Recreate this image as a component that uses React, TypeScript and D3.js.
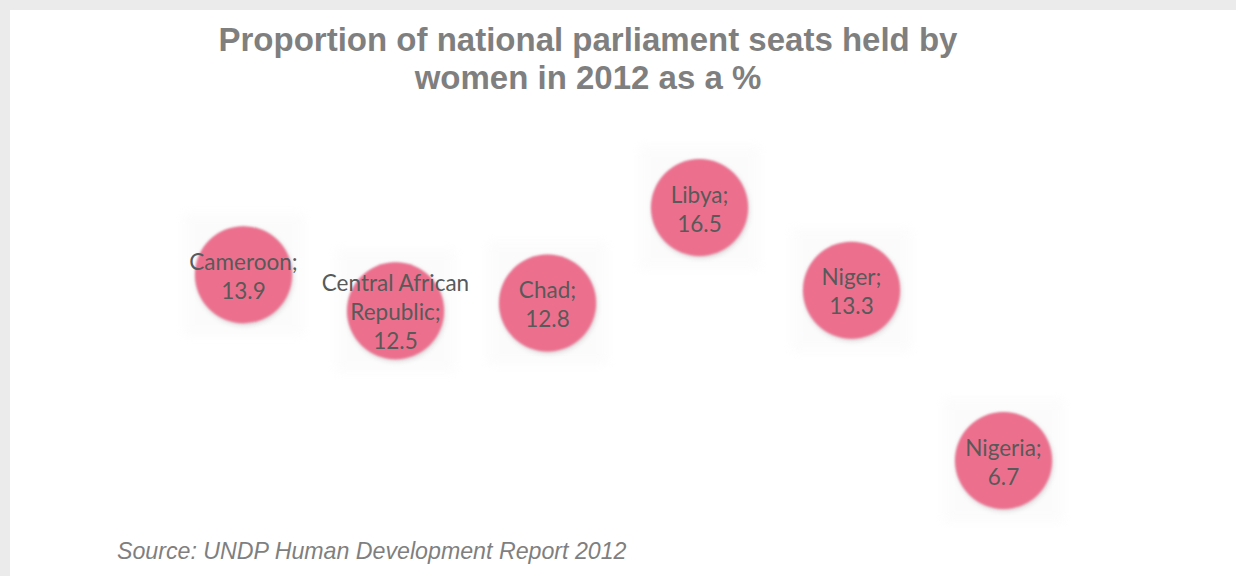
import React from "react";
import * as d3 from "d3";

const countries = ["Cameroon", "Central African Republic", "Chad", "Libya", "Niger", "Nigeria"];
const seatShares = [13.9, 12.5, 12.8, 16.5, 13.3, 6.7];
const titleLines = ["Proportion of national parliament seats held by", "women in 2012 as a %"];
const sourceText = "Source: UNDP Human Development Report 2012";

const W = 1236;
const H = 576;

function labelLines(name: string, v: number): string[] {
  if (name.length > 12) {
    const i = name.lastIndexOf(" ");
    return [name.slice(0, i), name.slice(i + 1) + ";", String(v)];
  }
  return [name + ";", String(v)];
}

export default function App() {
  const x = d3.scalePoint<string>().domain(countries).range([243.5, 1003.5]);
  const y = d3.scaleLinear().domain([0, 18]).range([633.5, 168.8]);
  const r = 48.5;
  const lineH = 29;

  return (
    <svg
      width={W}
      height={H}
      style={{ position: "absolute", left: 0, top: 0, display: "block" }}
    >
      <defs>
        <filter id="soft" x="-30%" y="-30%" width="160%" height="160%">
          <feGaussianBlur stdDeviation="1.2" />
        </filter>
        <filter id="shadow" x="-30%" y="-30%" width="160%" height="160%">
          <feGaussianBlur stdDeviation="2.5" />
        </filter>
        <filter id="square" x="-30%" y="-30%" width="160%" height="160%">
          <feGaussianBlur stdDeviation="5" />
        </filter>
      </defs>
      <rect x={0} y={0} width={W} height={H} fill="#ebebeb" />
      <rect x={10} y={10} width={W - 10} height={H - 10} fill="#ffffff" />

      <g fontFamily="'Liberation Sans', Arial, sans-serif" fontWeight="bold" fontSize={33} fill="#7f7f7f" textAnchor="middle">
        {titleLines.map((t, i) => (
          <text key={i} x={588} y={51 + i * 38}>{t}</text>
        ))}
      </g>

      {countries.map((c, i) => {
        const cx = x(c) as number;
        const cy = y(seatShares[i]);
        return (
          <rect key={"sq" + c} x={cx - 60} y={cy - 62} width={120} height={124} fill="#f4f4f4" opacity={0.3} filter="url(#square)" />
        );
      })}

      {countries.map((c, i) => {
        const cx = x(c) as number;
        const cy = y(seatShares[i]);
        return (
          <g key={c}>
            <circle cx={cx + 1} cy={cy + 2} r={r} fill="#b0a0a6" opacity={0.45} filter="url(#shadow)" />
            <circle cx={cx} cy={cy} r={r} fill="#ec6f8e" filter="url(#soft)" />
          </g>
        );
      })}

      {countries.map((c, i) => {
        const cx = x(c) as number;
        const cy = y(seatShares[i]);
        const lines = labelLines(c, seatShares[i]);
        const n = lines.length;
        return (
          <text key={"l" + c} fontFamily="Lato, 'Noto Sans', sans-serif" fontSize={22.5} fill="#595959" textAnchor="middle">
            {lines.map((t, k) => (
              <tspan key={k} x={cx} y={cy + 9.5 + (k - (n - 1) / 2) * lineH}>{t}</tspan>
            ))}
          </text>
        );
      })}

      <text x={117} y={559} fontFamily="'Liberation Sans', Arial, sans-serif" fontStyle="italic" fontSize={23.2} fill="#7f7f7f">
        {sourceText}
      </text>
    </svg>
  );
}
